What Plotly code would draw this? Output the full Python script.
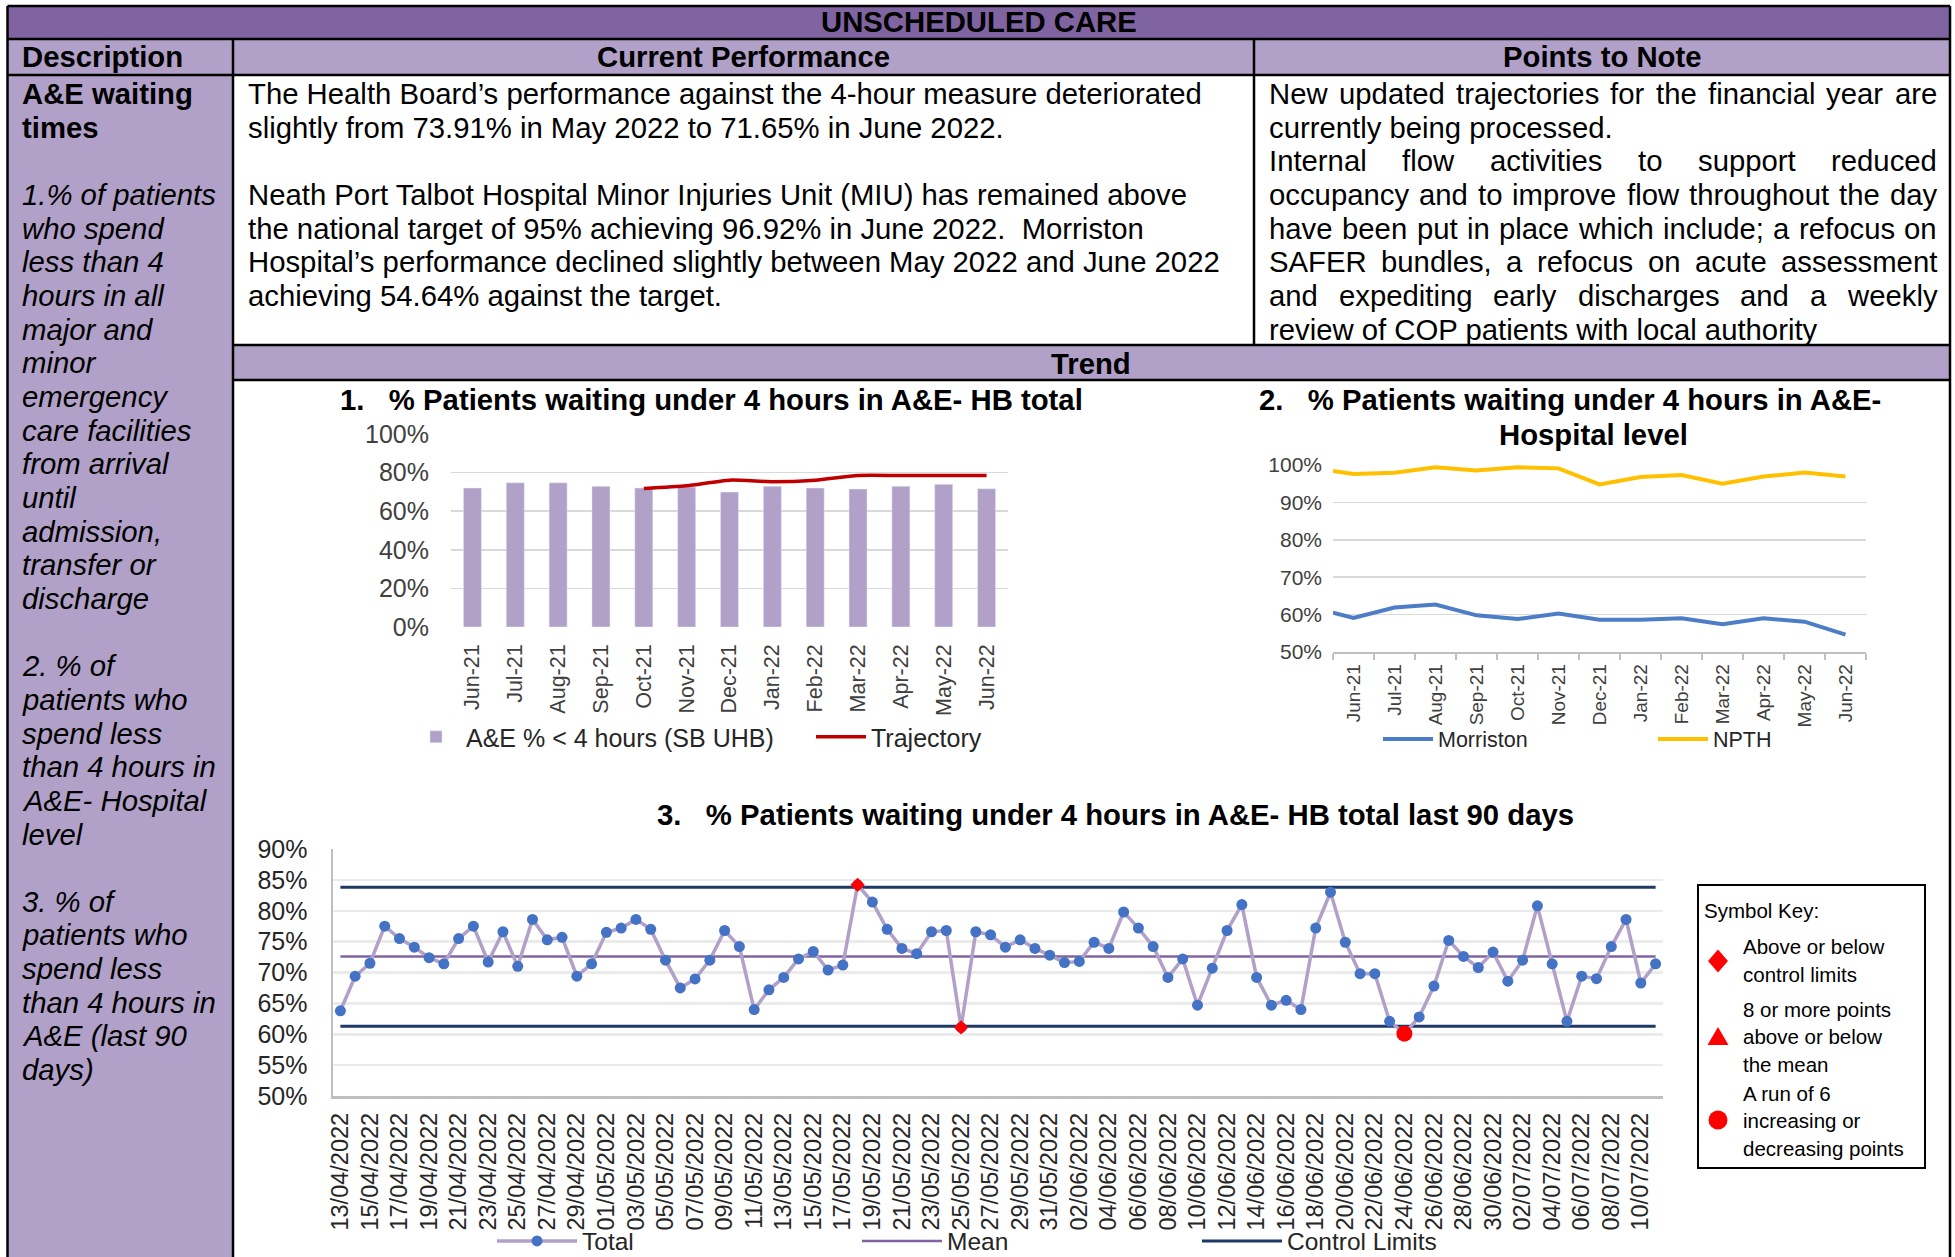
import plotly.graph_objects as go
import pandas as pd

# ---------------- data ----------------
months = ["Jun-21", "Jul-21", "Aug-21", "Sep-21", "Oct-21", "Nov-21", "Dec-21",
          "Jan-22", "Feb-22", "Mar-22", "Apr-22", "May-22", "Jun-22"]
ae_pct = [72.0, 74.7, 74.7, 72.9, 72.0, 72.5, 69.9, 72.9, 72.0, 71.5, 72.9, 73.91, 71.65]
trajectory = [None, None, None, None, 71.8, 73.2, 76.1, 75.3, 76.1, 78.5, 78.5, 78.5, 78.5]

# chart 2: first value sits on the left axis edge, then one value per month
morriston = [60.5, 59.1, 61.9, 62.7, 59.8, 58.8, 60.3, 58.6, 58.6, 59.0, 57.4, 59.0, 58.1, 54.64]
npth = [98.4, 97.6, 97.9, 99.4, 98.5, 99.4, 99.1, 94.8, 96.8, 97.3, 95.0, 96.9, 98.0, 96.92]

# chart 3: daily values, last 90 days (13/04/2022 - 11/07/2022)
dates = [d.strftime("%d/%m/%Y") for d in pd.date_range("2022-04-13", periods=90, freq="D")]
daily_total = [63.8, 69.4, 71.5, 77.5, 75.5, 74.1, 72.4, 71.4, 75.5, 77.5,
               71.7, 76.6, 71.0, 78.6, 75.3, 75.7, 69.4, 71.4, 76.5, 77.2,
               78.6, 77.0, 72.0, 67.5, 68.95, 72.0, 76.8, 74.2, 64.0, 67.2,
               69.2, 72.2, 73.4, 70.4, 71.2, 84.2, 81.4, 77.0, 73.9, 73.05,
               76.6, 76.8, 61.1, 76.6, 76.1, 74.1, 75.3, 73.9, 72.8, 71.6,
               71.8, 74.9, 73.9, 79.8, 77.2, 74.2, 69.2, 72.2, 64.7, 70.7,
               76.8, 81.0, 69.2, 64.7, 65.5, 64.0, 77.2, 83.0, 74.9, 69.8,
               69.8, 62.1, 60.1, 62.8, 67.8, 75.2, 72.6, 70.8, 73.3, 68.6,
               72.0, 80.8, 71.4, 62.1, 69.4, 69.0, 74.2, 78.6, 68.3, 71.4]
mean_level = 72.6
upper_limit = 83.8
lower_limit = 61.3
outside_limit_dates = ["18/05/2022", "25/05/2022"]
run_dates = ["24/06/2022"]

# ---------------- geometry helpers ----------------
W, H = 1955, 1257
def X(px): return px / W
def Y(py): return 1 - py / H

FONT = "Liberation Sans, Arial, sans-serif"
DARK_PURPLE = "#8064A2"
LIGHT_PURPLE = "#B1A0C7"
BODY = 29.3

fig = go.Figure()

# ---------------- chart 1 ----------------
fig.add_trace(go.Bar(x=months, y=ae_pct, name="A&amp;E % &lt; 4 hours (SB UHB)",
                     marker_color=LIGHT_PURPLE, width=0.42, xaxis="x", yaxis="y",
                     legend="legend"))
fig.add_trace(go.Scatter(x=months, y=trajectory, name="Trajectory", mode="lines",
                         line=dict(color="#C00000", width=3.5, shape="spline", smoothing=0.6),
                         xaxis="x", yaxis="y", legend="legend"))

# ---------------- chart 2 ----------------
hosp_pos = [-0.5] + list(range(len(months)))
fig.add_trace(go.Scatter(x=hosp_pos, y=morriston, name="Morriston", mode="lines",
                         line=dict(color="#4C7DC6", width=4), xaxis="x2", yaxis="y2",
                         legend="legend2"))
fig.add_trace(go.Scatter(x=hosp_pos, y=npth, name="NPTH", mode="lines",
                         line=dict(color="#FFC000", width=4), xaxis="x2", yaxis="y2",
                         legend="legend2"))

# ---------------- chart 3 ----------------
n = len(dates)
fig.add_trace(go.Scatter(x=dates, y=[upper_limit] * n, name="Control Limits", mode="lines",
                         line=dict(color="#1F3864", width=3), xaxis="x3", yaxis="y3",
                         legend="legend3", legendgroup="cl", legendrank=3))
fig.add_trace(go.Scatter(x=dates, y=[lower_limit] * n, name="Control Limits", mode="lines",
                         line=dict(color="#1F3864", width=3), xaxis="x3", yaxis="y3",
                         legend="legend3", legendgroup="cl", showlegend=False))
fig.add_trace(go.Scatter(x=dates, y=[mean_level] * n, name="Mean", mode="lines",
                         line=dict(color=DARK_PURPLE, width=2.5), xaxis="x3", yaxis="y3",
                         legend="legend3", legendrank=2, legendwidth=245))
fig.add_trace(go.Scatter(x=dates, y=daily_total, name="Total", mode="lines+markers",
                         line=dict(color=LIGHT_PURPLE, width=3.5),
                         marker=dict(color="#4472C4", size=11),
                         xaxis="x3", yaxis="y3", legend="legend3", legendrank=1))
idx = {d: i for i, d in enumerate(dates)}
fig.add_trace(go.Scatter(x=outside_limit_dates, y=[daily_total[idx[d]] for d in outside_limit_dates],
                         mode="markers", marker=dict(symbol="diamond", color="#FF0000", size=11),
                         xaxis="x3", yaxis="y3", showlegend=False))
fig.add_trace(go.Scatter(x=run_dates, y=[daily_total[idx[d]] for d in run_dates],
                         mode="markers", marker=dict(symbol="circle", color="#FF0000", size=16),
                         xaxis="x3", yaxis="y3", showlegend=False))

# ---------------- table shapes ----------------
shapes = []
def rect(x0, y0, x1, y1, fill):
    shapes.append(dict(type="rect", xref="paper", yref="paper", x0=X(x0), x1=X(x1),
                       y0=Y(y1), y1=Y(y0), fillcolor=fill, line=dict(width=0), layer="below"))
def hline(x0, x1, y, w=2.5, c="black"):
    shapes.append(dict(type="line", xref="paper", yref="paper", x0=X(x0), x1=X(x1),
                       y0=Y(y), y1=Y(y), line=dict(color=c, width=w)))
def vline(x, y0, y1, w=2.5, c="black"):
    shapes.append(dict(type="line", xref="paper", yref="paper", x0=X(x), x1=X(x),
                       y0=Y(y0), y1=Y(y1), line=dict(color=c, width=w)))

L, R, T = 7.5, 1950, 6
C1, C2 = 233, 1254
rect(L, T, R, 39, DARK_PURPLE)
rect(L, 39, R, 75, LIGHT_PURPLE)
rect(L, 75, C1, H, LIGHT_PURPLE)
rect(C1, 345, R, 380, LIGHT_PURPLE)
hline(L, R, T)
hline(L, R, 39)
hline(L, R, 75)
hline(C1, R, 345)
hline(C1, R, 380)
vline(L, T, H)
vline(R, T, H)
vline(C1, 39, H)
vline(C2, 39, 345)

# symbol key box
shapes.append(dict(type="rect", xref="paper", yref="paper", x0=X(1698), x1=X(1925),
                   y0=Y(1168), y1=Y(885), line=dict(color="black", width=2), fillcolor="white"))
def path(pts):
    d = "M " + " L ".join(f"{X(px)},{Y(py)}" for px, py in pts) + " Z"
    shapes.append(dict(type="path", xref="paper", yref="paper", path=d,
                       fillcolor="#FF0000", line=dict(width=0)))
path([(1718, 949.5), (1728, 961), (1718, 972.5), (1708, 961)])
path([(1718, 1027), (1728.5, 1045), (1707.5, 1045)])
shapes.append(dict(type="circle", xref="paper", yref="paper", x0=X(1708.5), x1=X(1727.5),
                   y0=Y(1129.5), y1=Y(1110.5), fillcolor="#FF0000", line=dict(width=0)))

# ---------------- text ----------------
ann = []
def txt(s, x, y, size=BODY, bold=False, italic=False, xanchor="left", color="black"):
    if bold:
        s = f"<b>{s}</b>"
    if italic:
        s = f"<i>{s}</i>"
    ann.append(dict(text=s, x=X(x), y=Y(y), xref="paper", yref="paper", showarrow=False,
                    xanchor=xanchor, yanchor="middle", align="left",
                    font=dict(size=size, color=color, family=FONT)))

AW = {" ": 278, "!": 278, "%": 889, "&": 667, "'": 191, "(": 333, ")": 333, ",": 278,
      "-": 333, ".": 278, "/": 278, ":": 278, ";": 278, "’": 222,
      "A": 667, "B": 667, "C": 722, "D": 722, "E": 667, "F": 611, "G": 778, "H": 722,
      "I": 278, "J": 500, "K": 667, "L": 556, "M": 833, "N": 722, "O": 778, "P": 667,
      "Q": 778, "R": 722, "S": 667, "T": 611, "U": 722, "V": 667, "W": 944, "X": 667,
      "Y": 667, "Z": 611,
      "a": 556, "b": 556, "c": 500, "d": 556, "e": 556, "f": 278, "g": 556, "h": 556,
      "i": 222, "j": 222, "k": 500, "l": 222, "m": 833, "n": 556, "o": 556, "p": 556,
      "q": 556, "r": 333, "s": 500, "t": 278, "u": 556, "v": 500, "w": 722, "x": 500,
      "y": 500, "z": 500}
def tw(s, size):
    return sum(AW.get(c, 556) for c in s) / 1000 * size

def justified(line, x0, x1, y, size=BODY):
    words = line.split()
    total = sum(tw(w, size) for w in words)
    gap = (x1 - x0 - total) / (len(words) - 1)
    x = x0
    for w in words:
        txt(w, x, y, size)
        x += tw(w, size) + gap

def row(k):
    return 93.5 + 33.66 * k

txt("UNSCHEDULED CARE", 979, 21, bold=True, xanchor="center")
txt("Description", 20, 56, bold=True)
txt("Current Performance", 743, 56, bold=True, xanchor="center")
txt("Points to Note", 1602, 56, bold=True, xanchor="center")
txt("Trend", 1091, 363, bold=True, xanchor="center")

left_col = [("A&amp;E waiting", "b"), ("times", "b"), ("", ""),
            ("1.% of patients", "i"), ("who spend", "i"), ("less than 4", "i"),
            ("hours in all", "i"), ("major and", "i"), ("minor", "i"), ("emergency", "i"),
            ("care facilities", "i"), ("from arrival", "i"), ("until", "i"),
            ("admission,", "i"), ("transfer or", "i"), ("discharge", "i"), ("", ""),
            ("2. % of", "i"), ("patients who", "i"), ("spend less", "i"),
            ("than 4 hours in", "i"), ("A&amp;E- Hospital", "i"), ("level", "i"), ("", ""),
            ("3. % of", "i"), ("patients who", "i"), ("spend less", "i"),
            ("than 4 hours in", "i"), ("A&amp;E (last 90", "i"), ("days)", "i")]
for k, (s, st) in enumerate(left_col):
    if s:
        txt(s, 20, row(k), bold=(st == "b"), italic=(st == "i"))

perf = {0: "The Health Board’s performance against the 4-hour measure deteriorated",
        1: "slightly from 73.91% in May 2022 to 71.65% in June 2022.",
        3: "Neath Port Talbot Hospital Minor Injuries Unit (MIU) has remained above",
        4: "the national target of 95% achieving 96.92% in June 2022.\u00a0 Morriston",
        5: "Hospital’s performance declined slightly between May 2022 and June 2022",
        6: "achieving 54.64% against the target."}
for k, s in perf.items():
    txt(s, 246, row(k))

notes = ["New updated trajectories for the financial year are",
         "currently being processed.",
         "Internal flow activities to support reduced",
         "occupancy and to improve flow throughout the day",
         "have been put in place which include; a refocus on",
         "SAFER bundles, a refocus on acute assessment",
         "and expediting early discharges and a weekly",
         "review of COP patients with local authority"]
for k, s in enumerate(notes):
    if k in (1, 7):
        txt(s, 1267, row(k))
    else:
        justified(s, 1267, 1935, row(k))

sp = "\u00a0\u00a0\u00a0"
txt(f"1.{sp}% Patients waiting under 4 hours in A&amp;E- HB total", 338, 399, bold=True)
txt(f"2.{sp}% Patients waiting under 4 hours in A&amp;E-", 1257, 399, bold=True)
txt("Hospital level", 1593, 434, bold=True, xanchor="center")
txt(f"3.{sp}% Patients waiting under 4 hours in A&amp;E- HB total last 90 days", 655, 814, bold=True)

key_lines = [("Symbol Key:", 1702, 911), ("Above or below", 1741, 946),
             ("control limits", 1741, 974), ("8 or more points", 1741, 1009),
             ("above or below", 1741, 1036), ("the mean", 1741, 1064),
             ("A run of 6", 1741, 1093), ("increasing or", 1741, 1120),
             ("decreasing points", 1741, 1148)]
for s, x, y in key_lines:
    txt(s, x, y, size=20.5)

# ---------------- axes ----------------
TICKC = "#404040"
GRID = "#D9D9D9"
fig.update_layout(
    width=W, height=H, margin=dict(l=0, r=0, t=0, b=0, pad=0, autoexpand=False),
    paper_bgcolor="white", plot_bgcolor="rgba(0,0,0,0)",
    font=dict(family=FONT, color="black"),
    hovermode=False,
    shapes=shapes, annotations=ann,
    xaxis=dict(domain=[X(451), X(1008)], anchor="y", type="category", range=[-0.5, 12.5],
               tickangle=-90, tickfont=dict(size=21.5, color=TICKC), showgrid=False,
               ticks="", ticklabelstandoff=12, automargin=False),
    yaxis=dict(domain=[Y(627), Y(434)], anchor="x", range=[0, 100], dtick=20,
               ticksuffix="%", tickfont=dict(size=25, color=TICKC), gridcolor=GRID,
               gridwidth=1.5, zeroline=False, showline=False, ticks="",
               ticklabelstandoff=21, automargin=False),
    xaxis2=dict(domain=[X(1333), X(1866)], anchor="y2", range=[-0.5, 12.5],
                tickmode="array", tickvals=list(range(len(months))), ticktext=months,
                tickangle=-90, tickfont=dict(size=19, color=TICKC), showgrid=False,
                ticks="", showline=True, linecolor="#BFBFBF", linewidth=1.5,
                minor=dict(tickmode="array", tickvals=[i - 0.5 for i in range(len(months) + 1)],
                           ticks="outside", ticklen=6, tickcolor="#BFBFBF", tickwidth=1.5,
                           showgrid=False),
                ticklabelstandoff=3, zeroline=False, automargin=False),
    yaxis2=dict(domain=[Y(652), Y(465)], anchor="x2", range=[50, 100], dtick=10,
                ticksuffix="%", tickfont=dict(size=21, color=TICKC), gridcolor=GRID,
                gridwidth=1.5, zeroline=False, showline=False, ticks="",
                ticklabelstandoff=10, automargin=False),
    xaxis3=dict(domain=[X(333), X(1663)], anchor="y3", type="category", range=[-0.5, 89.5],
                tickmode="array", tickvals=dates[::2], ticktext=dates[::2],
                tickangle=-90, tickfont=dict(size=23.5, color="#262626"), showgrid=False,
                ticks="", showline=True, linecolor="#BFBFBF", linewidth=2.5,
                ticklabelstandoff=5, automargin=False),
    yaxis3=dict(domain=[Y(1096), Y(849)], anchor="x3", range=[50, 90], dtick=5,
                ticksuffix="%", tickfont=dict(size=25, color="#262626"), gridcolor="#EBEBEB",
                gridwidth=2.5, zeroline=False, showline=True, linecolor="#BFBFBF",
                linewidth=2.5, ticks="", ticklabelstandoff=18, automargin=False),
    legend=dict(orientation="h", x=X(406), y=Y(737), xanchor="left", yanchor="middle",
                font=dict(size=25, color="#262626", family=FONT), itemwidth=50,
                entrywidth=340, entrywidthmode="pixels", bgcolor="rgba(0,0,0,0)",
                traceorder="normal"),
    legend2=dict(orientation="h", x=X(1378), y=Y(739), xanchor="left", yanchor="middle",
                 font=dict(size=21.5, color="#262626", family=FONT), itemwidth=50,
                 entrywidth=210, entrywidthmode="pixels", bgcolor="rgba(0,0,0,0)",
                 traceorder="normal"),
    legend3=dict(orientation="h", x=X(492), y=Y(1241), xanchor="left", yanchor="middle",
                 font=dict(size=24.5, color="#262626", family=FONT), itemwidth=80,
                 entrywidth=270, entrywidthmode="pixels", bgcolor="rgba(0,0,0,0)",
                 traceorder="normal"),
)

fig.write_html("out.html", config={"displayModeBar": False, "staticPlot": True},
               post_script="document.body.style.margin='0';document.body.style.overflow='hidden';")
